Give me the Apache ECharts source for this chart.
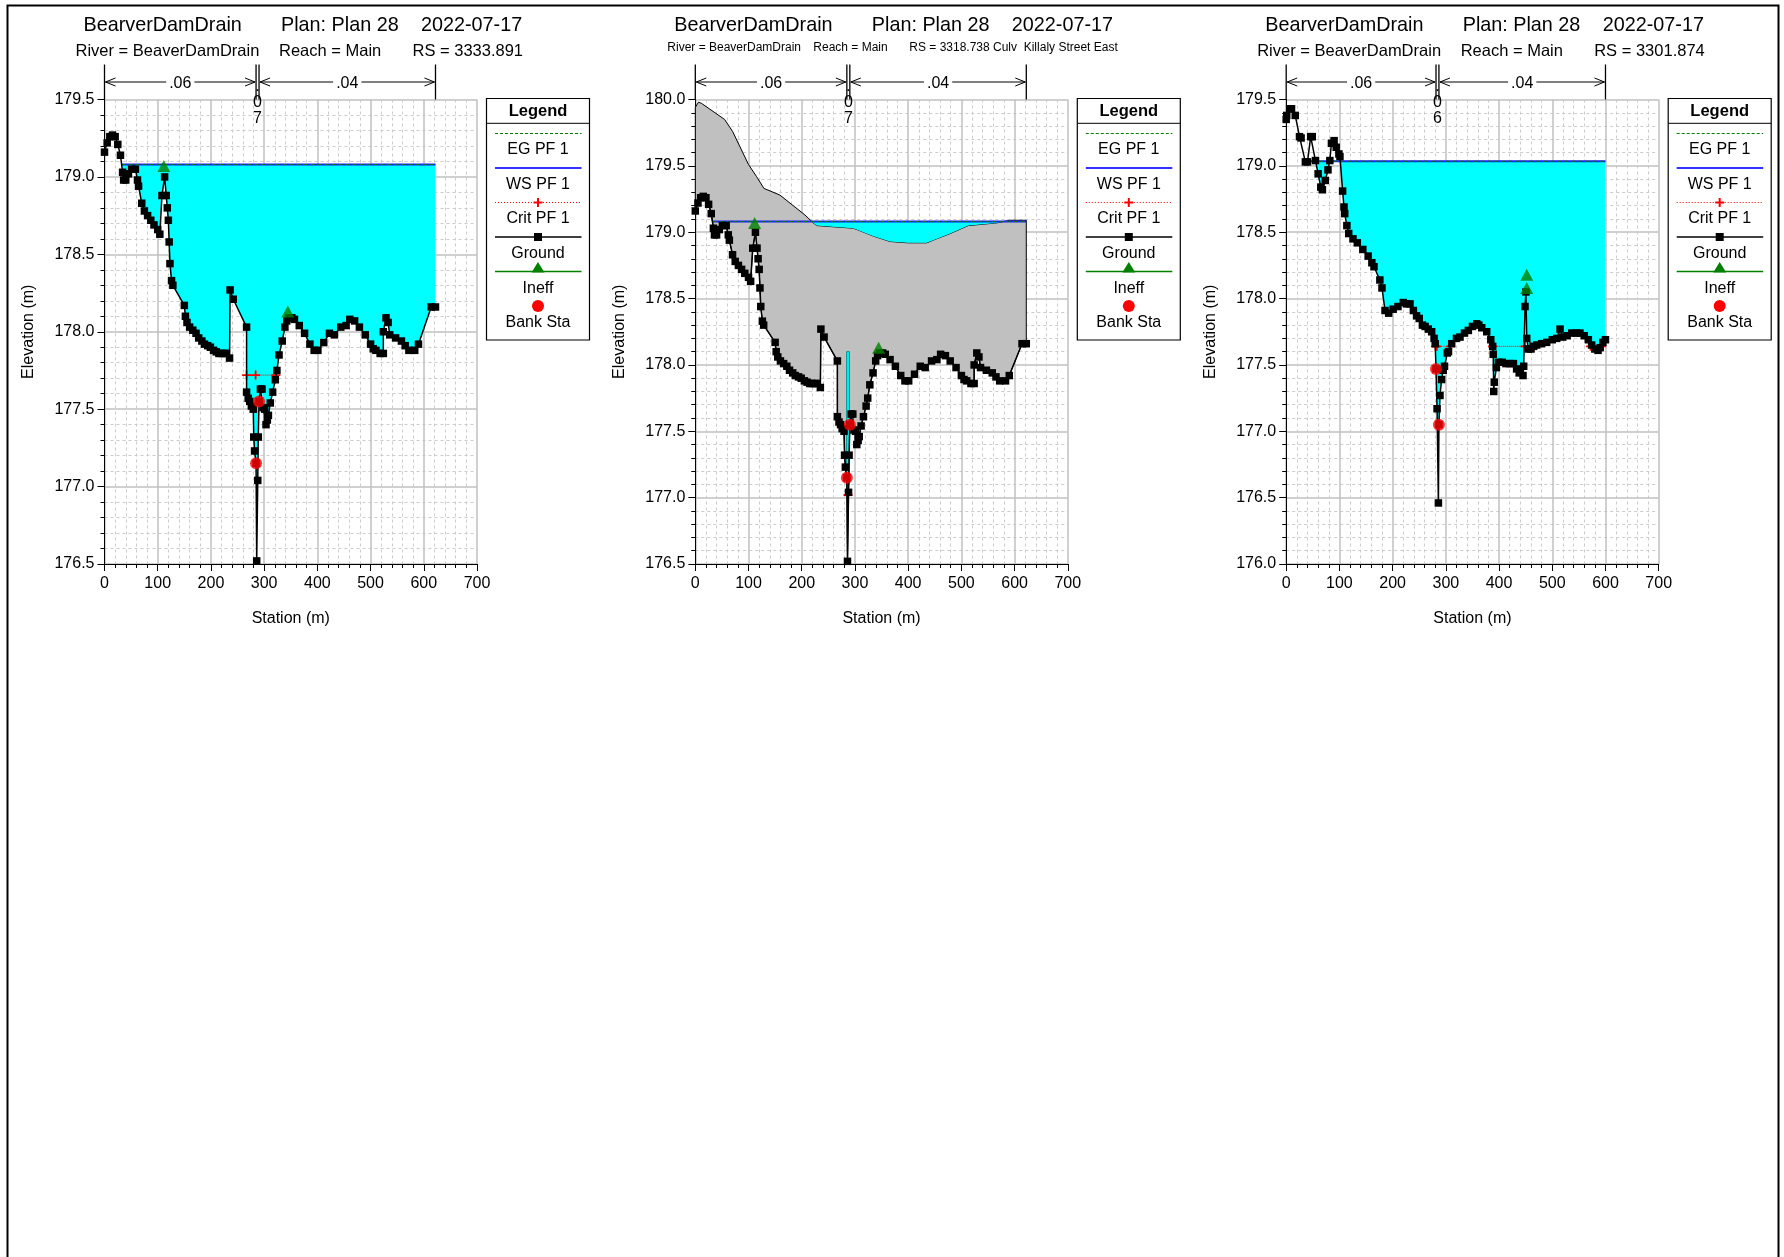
<!DOCTYPE html>
<html>
<head>
<meta charset="utf-8">
<script src="https://cdn.jsdelivr.net/npm/echarts@6/dist/echarts.min.js"></script>
<style>
html,body{margin:0;padding:0;background:#fff}
#chart{width:1784px;height:1257px}
</style>
</head>
<body>
<div id="chart"></div>
<script>
// ---------- section data (station m, elevation m) ----------
// Upstream section RS 3333.891 (the culvert section RS 3318.738 shares this ground)
const groundUp = [
  [0,179.16],[5,179.22],[10,179.26],[15,179.27],[20,179.26],[25,179.21],[30,179.14],[34,179.03],
  [36,178.98],[40,178.98],[45,179.02],[51,179.05],[58,179.05],[62,178.98],[64,178.94],[70,178.83],
  [75,178.78],[81,178.75],[87,178.72],[93,178.69],[100,178.66],[104,178.63],[108,178.88],[113,179.00],
  [116,178.88],[118,178.80],[120,178.72],[121.5,178.58],[123,178.44],[126,178.33],[128.5,178.30],
  [150,178.17],[152,178.10],[155,178.06],[160,178.03],[166,178.01],[172,177.99],[177,177.96],
  [183,177.94],[188,177.92],[194,177.91],[199,177.90],[205,177.88],[210,177.87],[215,177.86],
  [220,177.86],[225,177.86],[229,177.86],[235,177.83],[236,178.27],[242,178.21],[267,178.03],
  [267,177.61],[270,177.57],[273,177.55],[276,177.52],[279.5,177.50],[280.5,177.32],[282,177.23],
  [284.8,177.15],[286,176.52],[288,177.04],[289,177.32],[290.4,177.55],[293,177.63],[296,177.63],
  [298,177.51],[301,177.50],[303.5,177.40],[306,177.43],[308,177.46],[311.6,177.54],[316,177.61],
  [321,177.69],[324,177.75],[328,177.85],[334,177.94],[339,178.03],[342.5,178.07],[346,178.09],
  [352,178.09],[357,178.08],[366,178.04],[376,177.99],[386,177.92],[394,177.88],[401,177.88],
  [412,177.93],[422.7,177.99],[432,177.98],[444,178.03],[454,178.04],[461,178.08],[470,178.07],
  [479,178.03],[490,177.98],[500,177.92],[505,177.89],[510,177.88],[518,177.86],[524,177.86],
  [524,178.00],[529,178.09],[533,178.06],[536,177.98],[547,177.96],[558,177.94],[565,177.91],
  [572,177.88],[583,177.88],[590,177.92],[614,178.16],[622,178.16]
];
// Road profile over the culvert (RS 3318.738)
const roadCulv = [
  [0,179.94],[6,179.98],[12,179.97],[55,179.85],[70,179.76],[100,179.51],[115,179.42],[129,179.33],
  [159,179.28],[184,179.20],[206,179.13],[219,179.08],[228,179.05],[297,179.03],[310,179.01],
  [335,178.97],[366,178.93],[400,178.92],[435,178.92],[447,178.94],[479,178.99],[513,179.05],
  [566,179.07],[591,179.09],[622,179.09]
];
// Culvert opening: [left station, right station, invert, crown]
const culvertBox = [284.5, 289.5, 177.10, 178.10];
// Downstream section RS 3301.874
const groundDn = [
  [0,179.35],[1,179.38],[6.5,179.43],[10,179.43],[17,179.38],[25,179.22],[28,179.21],[36,179.03],
  [40,179.03],[46,179.22],[49,179.22],[55,179.04],[60,178.94],[65,178.84],[68,178.82],[73.5,178.89],
  [78.5,178.97],[82,179.04],[85,179.17],[90,179.19],[94,179.14],[99,179.09],[101,179.07],[106,178.81],
  [108.6,178.69],[110,178.64],[114,178.55],[117.5,178.49],[125.5,178.45],[133.6,178.42],[144,178.37],
  [154,178.32],[161,178.27],[165,178.24],[176,178.14],[180,178.08],[185.7,177.91],[192.6,177.89],
  [201,177.92],[210,177.94],[220,177.97],[226,177.96],[232.6,177.96],[239,177.91],[245,177.87],
  [250,177.85],[256,177.80],[261,177.79],[267,177.77],[273.4,177.75],[277.9,177.70],[280,177.66],
  [281.5,177.47],[283.5,177.17],[286,176.46],[287,177.05],[289,177.27],[292,177.39],[295,177.46],
  [297.5,177.49],[302.7,177.59],[305,177.60],[311,177.66],[320,177.70],[326.6,177.71],[335,177.74],
  [342.3,177.76],[350,177.79],[358,177.81],[362,177.80],[367.4,177.78],[376.8,177.75],[384.5,177.69],
  [388,177.64],[389,177.58],[390,177.30],[391,177.37],[395,177.48],[398.7,177.52],[405.8,177.52],
  [413,177.51],[420,177.51],[427,177.51],[433,177.47],[437.8,177.44],[445,177.42],[446.3,177.49],
  [448.8,177.94],[450.5,178.05],[452,177.70],[455,177.62],[460,177.62],[465,177.64],[470.7,177.65],
  [480,177.66],[489.5,177.67],[500,177.69],[508.3,177.70],[514.6,177.77],[519.6,177.71],[528,177.72],
  [536.6,177.74],[545,177.74],[552,177.74],[560,177.72],[567.8,177.69],[574,177.65],[580,177.62],
  [586,177.61],[590,177.63],[595,177.67],[600,177.69]
];

// Water surface / energy grade (PF 1)
const wsLevels = [179.08, 179.08, 179.035];
const egLevels = [179.08, 179.08, 179.035];
// Critical depth: each inner array is one drawn run
const critUp = [[[267,177.72],[284,177.72],[322,177.72]]];
const critCulv = [[[287,177.02]]];
const critDn = [
  [[280.5,177.64],[283,177.64],[309,177.64]],
  [[388,177.64],[448.8,177.64],[458,177.64],[465.7,177.64]],
  [[572,177.64],[593,177.64]]
];
// Bank stations and ineffective flow markers
const bankUp = [[284.8,177.15],[290.4,177.55]];
const bankDn = [[281.5,177.47],[287,177.05]];
const ineffUp = [[111.5,179.07],[344.5,178.13]];
const ineffDn = [[452,178.08],[452,178.18]];
// Manning's n regions
const nValsUp = ['.06','.07','.04'];
const nValsDn = ['.06','.06','.04'];
const nRightUp = 622;
const nRightDn = 600;
// Axis ranges
const yRanges = [[176.5,179.5],[176.5,180.0],[176.0,179.5]];
const xRange = [0, 700];
// Header texts
const titleParts = ['BearverDamDrain', 'Plan: Plan 28', '2022-07-17'];
const subUp = ['River = BeaverDamDrain', 'Reach = Main', 'RS = 3333.891'];
const subCulv = ['River = BeaverDamDrain', 'Reach = Main', 'RS = 3318.738 Culv  Killaly Street East'];
const subDn = ['River = BeaverDamDrain', 'Reach = Main', 'RS = 3301.874'];
const legendItems = ['EG PF 1','WS PF 1','Crit PF 1','Ground','Ineff','Bank Sta'];

// ---------- helpers ----------
const FONT = "'Liberation Sans', Arial, Helvetica, sans-serif";
const CROSS = 'path://M4,0H6V4H10V6H6V10H4V6H0V4H4Z';

// polygon of the region below `level` and above the profile
function fillBelow(pts, level) {
  const bottom = [];
  for (let i = 0; i < pts.length; i++) {
    const [x, y] = pts[i];
    if (i > 0) {
      const [px, py] = pts[i - 1];
      if ((py - level) * (y - level) < 0) {
        const t = (level - py) / (y - py);
        bottom.push([px + t * (x - px), level]);
      }
    }
    bottom.push([x, Math.min(y, level)]);
  }
  return [[pts[0][0], level], [pts[pts.length - 1][0], level]].concat(bottom.reverse());
}
// first station where the profile drops below `level`
function firstWet(pts, level) {
  for (let i = 0; i < pts.length; i++) {
    if (pts[i][1] < level) {
      if (i === 0) return pts[0][0];
      const [px, py] = pts[i - 1], [x, y] = pts[i];
      return px + (level - py) / (y - py) * (x - px);
    }
  }
  return pts[0][0];
}

const GRID_TOP = 99.5, GRID_W = 372.5, GRID_H = 464.5;
const panelLeft = [104.5, 695.3, 1286.2];

const panels = [
  { ground: groundUp, road: null, ws: wsLevels[0], eg: egLevels[0], crit: critUp, bank: bankUp,
    ineff: ineffUp, nVals: nValsUp, nRight: nRightUp, sub: subUp, subSize: 16.5 },
  { ground: groundUp, road: roadCulv, ws: wsLevels[1], eg: egLevels[1], crit: critCulv, bank: bankUp,
    ineff: ineffUp, nVals: nValsUp, nRight: nRightUp, sub: subCulv, subSize: 12 },
  { ground: groundDn, road: null, ws: wsLevels[2], eg: egLevels[2], crit: critDn, bank: bankDn,
    ineff: ineffDn, nVals: nValsDn, nRight: nRightDn, sub: subDn, subSize: 16.5 }
];

const grids = [], xAxes = [], yAxes = [], series = [], graphics = [];

function customPoly(idx, pts, style, z) {
  return {
    type: 'custom', xAxisIndex: idx, yAxisIndex: idx, silent: true, z, clip: false,
    data: [pts[0]],
    renderItem: (p, api) => ({ type: 'polygon', shape: { points: pts.map(q => api.coord(q)) }, style })
  };
}

panels.forEach((P, i) => {
  const x0 = panelLeft[i];
  const [yMin, yMax] = yRanges[i];
  grids.push({ left: x0, top: GRID_TOP, width: GRID_W, height: GRID_H });
  xAxes.push({
    type: 'value', gridIndex: i, min: xRange[0], max: xRange[1], interval: 100,
    name: 'Station (m)', nameLocation: 'middle', nameGap: 46.5,
    nameTextStyle: { fontFamily: FONT, fontSize: 16, color: '#000' },
    axisLine: { show: true, onZero: false, lineStyle: { color: '#000', width: 1 } },
    axisTick: { show: true, length: 7, lineStyle: { color: '#000' } },
    minorTick: { show: true, splitNumber: 5, length: 4, lineStyle: { color: '#000' } },
    axisLabel: { fontFamily: FONT, fontSize: 16, color: '#000', margin: 11.5 },
    splitLine: { show: true, lineStyle: { color: '#c0c0c0', width: 1.5 } },
    minorSplitLine: { show: true, lineStyle: { color: '#cccccc', width: 1, type: [3, 3] } }
  });
  yAxes.push({
    type: 'value', gridIndex: i, min: yMin, max: yMax, interval: 0.5,
    name: 'Elevation (m)', nameLocation: 'middle', nameGap: 68,
    nameTextStyle: { fontFamily: FONT, fontSize: 16, color: '#000' },
    axisLine: { show: true, onZero: false, lineStyle: { color: '#000', width: 1 } },
    axisTick: { show: true, length: 7, lineStyle: { color: '#000' } },
    minorTick: { show: true, splitNumber: 5, length: 4, lineStyle: { color: '#000' } },
    axisLabel: { fontFamily: FONT, fontSize: 16, color: '#000', margin: 10, formatter: v => v.toFixed(1) },
    splitLine: { show: true, lineStyle: { color: '#c0c0c0', width: 1.5 } },
    minorSplitLine: { show: true, lineStyle: { color: '#cccccc', width: 1, type: [3, 3] } }
  });

  const right = P.ground[P.ground.length - 1][0];

  // culvert embankment (grey) and water ponded over the road
  if (P.road) {
    const emb = P.road.concat(P.ground.slice().reverse());
    series.push(customPoly(i, emb, { fill: '#c0c0c0', stroke: '#000', lineWidth: 1 }, 2));
    series.push(customPoly(i, fillBelow(P.road, P.ws), { fill: '#00ffff' }, 3));
    series.push({
      type: 'custom', xAxisIndex: i, yAxisIndex: i, silent: true, z: 4, clip: false,
      data: [[culvertBox[0], culvertBox[3]]],
      renderItem: (p, api) => {
        const a = api.coord([culvertBox[0], culvertBox[3]]);
        const b = api.coord([culvertBox[1], culvertBox[2]]);
        return { type: 'rect', shape: { x: a[0], y: a[1], width: b[0] - a[0], height: b[1] - a[1] },
                 style: { fill: '#00ffff', stroke: '#008b8b', lineWidth: 1 } };
      }
    });
  } else {
    series.push(customPoly(i, fillBelow(P.ground, P.ws), { fill: '#00ffff' }, 3));
  }

  // water surface and energy grade lines
  const wetStart = firstWet(P.ground, P.ws);
  series.push({
    type: 'line', xAxisIndex: i, yAxisIndex: i, silent: true, z: 5, symbol: 'none',
    data: [[wetStart, P.ws], [right, P.ws]], lineStyle: { color: '#2020ff', width: 2 }
  });
  series.push({
    type: 'line', xAxisIndex: i, yAxisIndex: i, silent: true, z: 6, symbol: 'none',
    data: [[wetStart, P.eg], [right, P.eg]], lineStyle: { color: '#008000', width: 1, type: [4, 3] }
  });

  // critical depth runs
  P.crit.forEach(run => {
    series.push({
      type: 'line', xAxisIndex: i, yAxisIndex: i, silent: true, z: 7,
      data: run, symbol: CROSS, symbolSize: 9, showAllSymbol: true,
      itemStyle: { color: '#ff0000' }, lineStyle: { color: '#ff0000', width: 1, type: 'dotted' }
    });
  });

  // ground
  series.push({
    type: 'line', xAxisIndex: i, yAxisIndex: i, silent: true, z: 8,
    data: P.ground, symbol: 'rect', symbolSize: 7.5, showAllSymbol: true,
    itemStyle: { color: '#000' }, lineStyle: { color: '#000', width: 1.5 }
  });
  // bank stations
  series.push({
    type: 'scatter', xAxisIndex: i, yAxisIndex: i, silent: true, z: 9,
    data: P.bank, symbol: 'circle', symbolSize: 12, itemStyle: { color: '#ff0000' }
  });
  // ineffective flow markers
  series.push({
    type: 'scatter', xAxisIndex: i, yAxisIndex: i, silent: true, z: 10,
    data: P.ineff, symbol: 'triangle', symbolSize: [13, 12], itemStyle: { color: '#008000' }
  });

  // Manning's n header above the plot
  const bounds = [0, P.bank[0][0], P.bank[1][0], P.nRight];
  series.push({
    type: 'custom', xAxisIndex: i, yAxisIndex: i, silent: true, z: 20, clip: false,
    data: [[0, yMax]],
    renderItem: (p, api) => {
      const top = api.coord([0, yMax])[1];
      const xs = bounds.map(s => api.coord([s, yMax])[0]);
      const yT = top - 35, yA = top - 17.5;
      const ch = [];
      xs.forEach(x => ch.push({ type: 'line', shape: { x1: x, y1: yT, x2: x, y2: top },
                                style: { stroke: '#000', lineWidth: 1.3 } }));
      [[0, 1, P.nVals[0]], [2, 3, P.nVals[2]]].forEach(([a, b, lab]) => {
        const xa = xs[a] + 1, xb = xs[b] - 1;
        ch.push({ type: 'line', shape: { x1: xa, y1: yA, x2: xb, y2: yA }, style: { stroke: '#000', lineWidth: 1 } });
        ch.push({ type: 'polyline', shape: { points: [[xa + 10, yA - 4], [xa, yA], [xa + 10, yA + 4]] },
                  style: { stroke: '#000', lineWidth: 1, fill: null } });
        ch.push({ type: 'polyline', shape: { points: [[xb - 10, yA - 4], [xb, yA], [xb - 10, yA + 4]] },
                  style: { stroke: '#000', lineWidth: 1, fill: null } });
        ch.push({ type: 'text', x: (xa + xb) / 2, y: yA + 1.5,
                  style: { text: lab, font: '16px ' + FONT, fill: '#000', align: 'center', verticalAlign: 'middle',
                           backgroundColor: '#fff', padding: [0, 3] } });
      });
      const mid = (xs[1] + xs[2]) / 2;
      ch.push({ type: 'text', x: mid, y: top + 3,
                style: { text: P.nVals[1].split('').join('\n'), font: '16px ' + FONT, fill: '#000',
                         align: 'center', verticalAlign: 'middle', lineHeight: 16.3 } });
      return { type: 'group', children: ch };
    }
  });

  // titles
  const tFont = '19.8px ' + FONT;
  [[-21, titleParts[0]], [176.5, titleParts[1]], [316.5, titleParts[2]]].forEach(([dx, t]) => {
    graphics.push({ type: 'text', x: x0 + dx, y: 25.5,
                    style: { text: t, font: tFont, fill: '#000', verticalAlign: 'middle' } });
  });
  const subX = i === 1 ? [-28, 118, 214] : [-29, 174.5, 308];
  const subY = i === 1 ? 47.5 : 51.5;
  P.sub.forEach((t, k) => {
    graphics.push({ type: 'text', x: x0 + subX[k], y: subY,
                    style: { text: t, font: P.subSize + 'px ' + FONT, fill: '#000', verticalAlign: 'middle' } });
  });

  // legend box
  const L = x0 + 382, W = 103, T = 98.5, B = 340;
  const cx = L + W / 2, l1 = L + 8.5, l2 = L + 95;
  const lg = [];
  lg.push({ type: 'rect', shape: { x: L, y: T, width: W, height: B - T }, style: { fill: '#fff', stroke: '#000', lineWidth: 1.2 } });
  lg.push({ type: 'line', shape: { x1: L, y1: 123.3, x2: L + W, y2: 123.3 }, style: { stroke: '#000', lineWidth: 1 } });
  lg.push({ type: 'text', x: cx, y: 111, style: { text: 'Legend', font: 'bold 16.5px ' + FONT, fill: '#000', align: 'center', verticalAlign: 'middle' } });
  lg.push({ type: 'line', shape: { x1: l1, y1: 133.5, x2: l2, y2: 133.5 }, style: { stroke: '#008000', lineWidth: 1, lineDash: [3, 2] } });
  lg.push({ type: 'line', shape: { x1: l1, y1: 168, x2: l2, y2: 168 }, style: { stroke: '#3333ff', lineWidth: 2 } });
  lg.push({ type: 'line', shape: { x1: l1, y1: 202.5, x2: l2, y2: 202.5 }, style: { stroke: '#ff0000', lineWidth: 1, lineDash: [1, 2] } });
  lg.push({ type: 'rect', shape: { x: cx - 4.5, y: 201.5, width: 9, height: 2 }, style: { fill: '#ff0000' } });
  lg.push({ type: 'rect', shape: { x: cx - 1, y: 198, width: 2, height: 9 }, style: { fill: '#ff0000' } });
  lg.push({ type: 'line', shape: { x1: l1, y1: 237, x2: l2, y2: 237 }, style: { stroke: '#000', lineWidth: 1.3 } });
  lg.push({ type: 'rect', shape: { x: cx - 4, y: 233, width: 8, height: 8 }, style: { fill: '#000' } });
  lg.push({ type: 'line', shape: { x1: l1, y1: 271.5, x2: l2, y2: 271.5 }, style: { stroke: '#008000', lineWidth: 1.3 } });
  lg.push({ type: 'polygon', shape: { points: [[cx, 262], [cx - 6.5, 272.5], [cx + 6.5, 272.5]] }, style: { fill: '#008000' } });
  lg.push({ type: 'circle', shape: { cx: cx, cy: 306, r: 6 }, style: { fill: '#ff0000' } });
  const ty = [150, 185, 218.5, 254, 289, 323];
  legendItems.forEach((t, k) => {
    lg.push({ type: 'text', x: cx, y: ty[k], style: { text: t, font: '16px ' + FONT, fill: '#000', align: 'center', verticalAlign: 'middle' } });
  });
  graphics.push({ type: 'group', children: lg });
});

// page frame
graphics.push({ type: 'rect', shape: { x: 7.5, y: 5.5, width: 1771, height: 1300 },
                style: { fill: null, stroke: '#000', lineWidth: 2 }, z: 100 });

const chart = echarts.init(document.getElementById('chart'), null, { renderer: 'canvas' });
chart.setOption({
  animation: false,
  backgroundColor: '#fff',
  grid: grids,
  xAxis: xAxes,
  yAxis: yAxes,
  series: series,
  graphic: graphics
});
</script>
</body>
</html>
